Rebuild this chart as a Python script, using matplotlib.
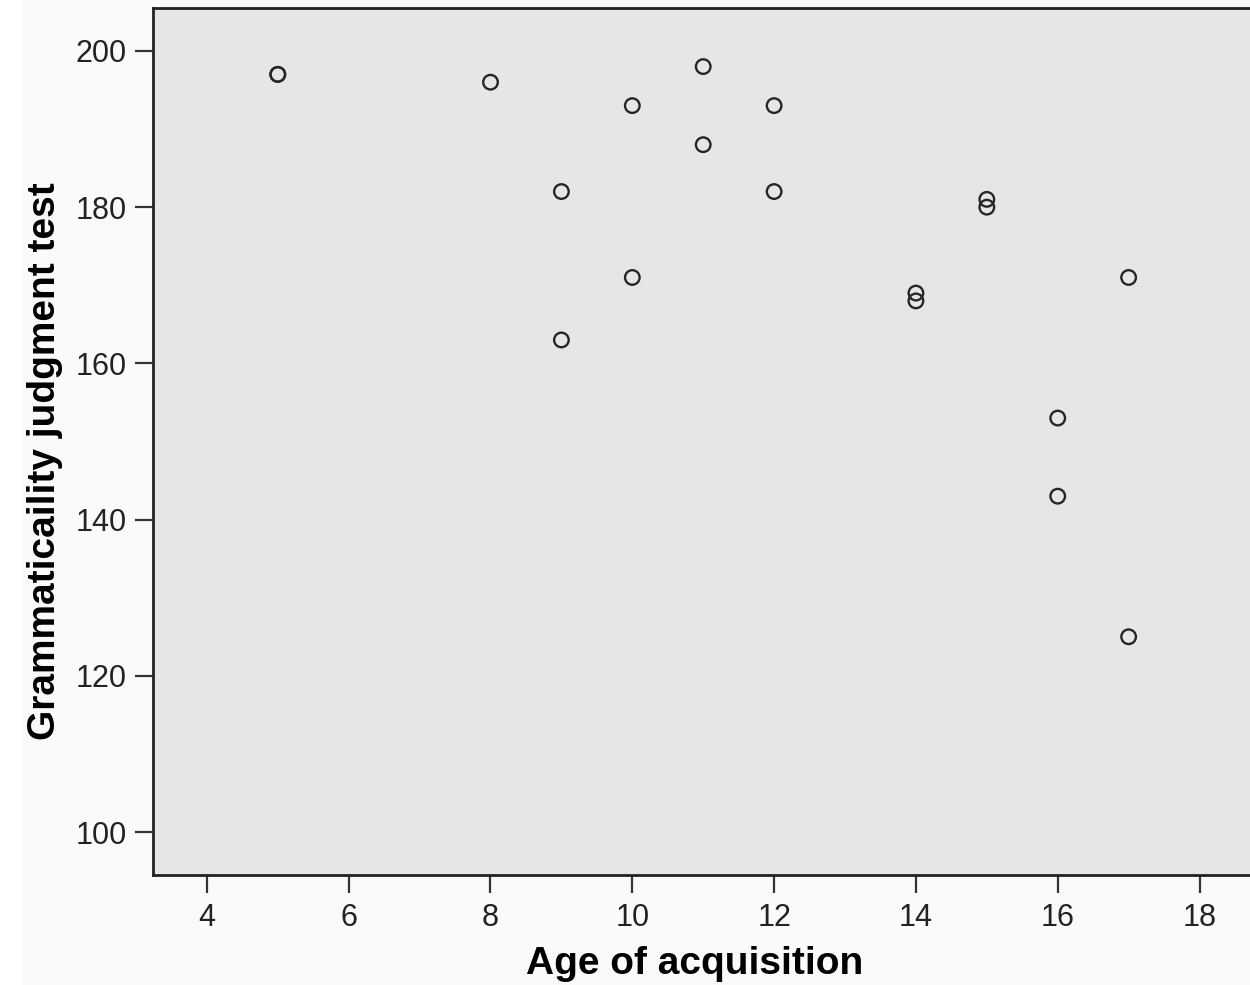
import matplotlib
matplotlib.use("Agg")
import matplotlib.pyplot as plt
from matplotlib.patches import Rectangle

age = [5, 5, 8, 10, 11, 12, 11, 9, 12, 15, 15, 10, 17, 14, 14, 9, 16, 16, 17]
gjt = [197, 197, 196, 193, 198, 193, 188, 182, 182, 181, 180, 171, 171, 169, 168, 163, 153, 143, 125]
xticks = [4, 6, 8, 10, 12, 14, 16, 18]
yticks = [100, 120, 140, 160, 180, 200]

plt.rcParams['font.family'] = ['Liberation Sans', 'DejaVu Sans']

W, H = 1250, 985
fig = plt.figure(figsize=(12.5, 9.85), dpi=100, facecolor='#fafafa')
fig.patches.append(Rectangle((0, 0), 22/W, 1, transform=fig.transFigure,
                             facecolor='white', edgecolor='none', zorder=-10))
ax = fig.add_axes([153/W, 1-875/H, (1252-153)/W, (875-8)/H])
ax.set_facecolor('#e6e6e6')
ax.scatter(age, gjt, s=110, facecolors='none', edgecolors='#262626', linewidths=1.7, zorder=3)

ax.set_xlim(3.24, 18.74)
ax.set_ylim(94.5, 205.5)
ax.set_xticks(xticks)
ax.set_yticks(yticks)
ax.tick_params(axis='both', direction='out', length=13, width=1.6, color='#333333',
               labelsize=22, labelcolor='#222222')
ax.tick_params(axis='x', pad=7)
ax.tick_params(axis='y', pad=6)
for s in ['left', 'bottom', 'top']:
    ax.spines[s].set_linewidth(2)
    ax.spines[s].set_color('#222222')
ax.spines['right'].set_visible(False)

ax.set_xlabel('Age of acquisition', fontsize=28, fontweight='bold')
ax.set_ylabel('Grammaticaility judgment test', fontsize=28, fontweight='bold')
ax.xaxis.set_label_coords(695/W, 1-946/H, transform=fig.transFigure)
ax.yaxis.set_label_coords(63/W, 1-461/H, transform=fig.transFigure)

fig.savefig('out.png', dpi=100, facecolor=fig.get_facecolor())
